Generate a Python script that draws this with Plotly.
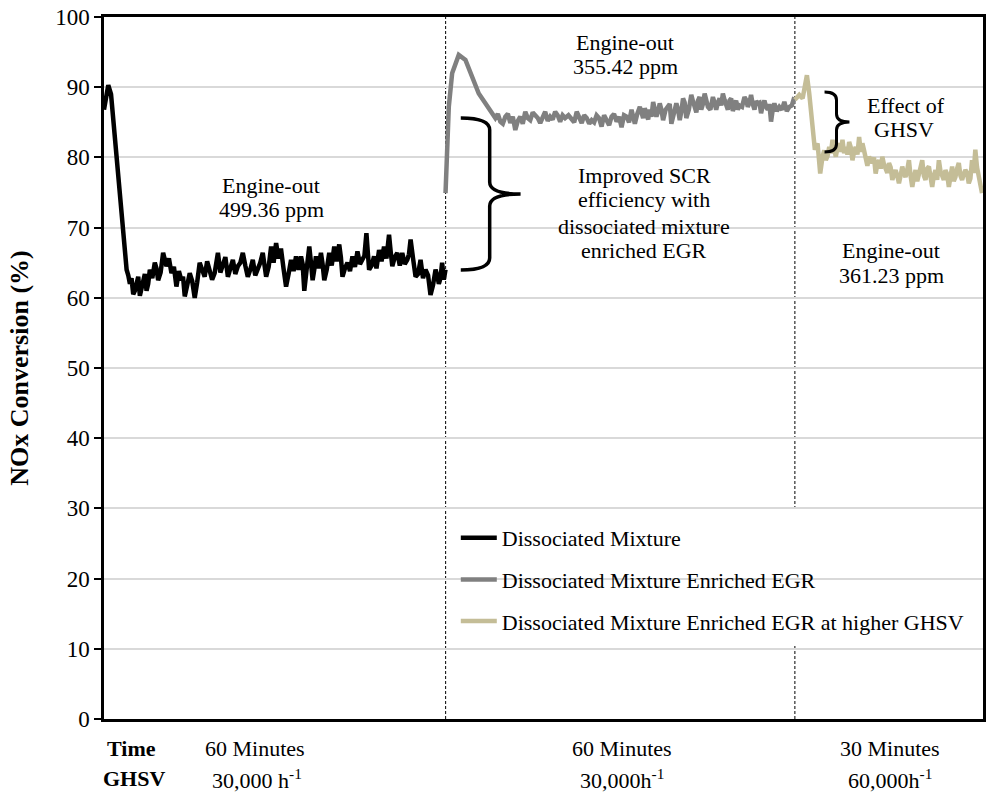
import plotly.graph_objects as go

# ---------------- data (time in minutes, NOx conversion in %) ----------------
t_dm = [0.0, 0.4, 0.73, 1.2, 1.7, 2.14, 2.6, 3.0, 3.57, 3.86, 4.14, 4.42, 4.70, 4.99, 5.27, 5.56,
        5.84, 6.12, 6.40, 6.69, 6.97, 7.26, 7.54, 7.82, 8.24, 8.67, 8.95, 9.24, 9.66, 10.09, 10.37,
        10.66, 11.08, 11.51, 11.93, 12.36, 12.78, 13.21, 13.49, 13.78, 14.2, 14.63, 15.05, 15.48,
        15.9, 16.33, 16.75, 17.18, 17.6, 18.03, 18.45, 18.88, 19.16, 19.44, 19.86, 20.29, 20.71,
        21.14, 21.56, 21.99, 22.41, 22.84, 23.26, 23.69, 24.11, 24.54, 24.96, 25.39, 25.81, 26.24,
        26.66, 27.09, 27.38, 27.67, 28.1, 28.52, 28.94, 29.37, 29.78, 30.2, 30.63, 31.07, 31.5,
        31.92, 32.35, 32.77, 33.2, 33.62, 33.9, 34.18, 34.6, 35.03, 35.32, 35.6, 35.88, 36.17,
        36.6, 37.02, 37.3, 37.59, 38.0, 38.44, 38.86, 39.29, 39.7, 40.14, 40.42, 40.7, 41.12,
        41.55, 41.98, 42.4, 42.82, 43.25, 43.68, 44.1, 44.44, 44.78, 45.0, 45.24, 45.66, 46.09,
        46.5, 46.94, 47.36, 47.79, 48.2, 48.64, 48.92, 49.2, 49.62, 50.05, 50.48, 50.9, 51.32,
        51.75, 52.04, 52.32, 52.74, 53.17, 53.6, 54.02, 54.44, 54.87, 55.3, 55.72, 56.15, 56.58,
        56.86, 57.14, 57.42, 57.7, 57.99, 58.28]
v_dm = [86.8, 89.0, 90.3, 89.0, 84.5, 79.6, 75.0, 71.1, 66.4, 64.0, 63.2, 62.0, 62.8, 60.5, 61.0, 62.5,
        63.0, 60.3, 61.2, 62.5, 63.4, 61.0, 62.0, 64.0, 62.8, 65.0, 64.2, 62.5, 63.6, 66.4, 65.2,
        64.5, 65.6, 63.5, 64.4, 61.6, 63.8, 62.5, 63.0, 60.2, 61.8, 63.5, 62.4, 60.0,
        62.2, 65.0, 64.0, 63.0, 65.2, 64.0, 62.6, 63.5, 64.8, 66.4, 63.6, 65.0, 65.8,
        63.0, 64.2, 65.4, 63.4, 64.5, 65.0, 66.4, 64.6, 63.0, 64.0, 65.4, 63.2, 64.0,
        65.0, 66.4, 64.6, 63.0, 64.4, 67.3, 65.0, 67.8, 65.6, 67.0, 64.2, 61.6, 63.4,
        65.4, 63.8, 65.9, 64.0, 65.9, 64.8, 61.0, 64.2, 67.3, 65.0, 62.5, 64.0, 65.9,
        64.2, 66.4, 64.8, 62.5, 64.0, 66.4, 64.6, 67.3, 65.2, 67.6, 65.8, 63.0, 64.2,
        65.0, 63.8, 65.9, 64.4, 66.6, 64.8, 65.4, 66.0, 69.2, 66.4, 64.0, 64.6, 65.9,
        64.2, 66.8, 65.2, 67.3, 65.6, 69.0, 66.6, 64.5, 65.8, 66.4, 64.6, 66.4, 64.8,
        65.4, 66.2, 68.3, 65.6, 63.0, 63.4, 65.4, 62.8, 64.0, 63.2, 60.4, 61.8, 64.0,
        63.2, 62.0, 62.8, 65.0, 62.6, 64.0]

t_egr = [58.28, 58.56, 58.84, 59.41, 60.54, 61.68, 62.81, 63.95, 65.08, 65.93, 66.78, 67.21, 67.64,
         68.06, 68.49, 68.92, 69.34, 69.76, 70.19, 70.62, 71.04, 71.46, 71.89, 72.32, 72.74, 73.16,
         73.59, 74.02, 74.44, 74.86, 75.29, 75.72, 76.14, 76.56, 76.99, 77.42, 77.84, 78.26, 78.69,
         79.26, 79.82, 80.24, 80.67, 81.1, 81.52, 81.94, 82.37, 82.8, 83.22, 83.64, 84.06, 84.48,
         84.91, 85.34, 85.77, 86.2, 86.62, 87.04, 87.47, 87.9, 88.32, 88.74, 89.17, 89.6, 90.02,
         90.3, 90.59, 91.0, 91.44, 91.72, 92.0, 92.28, 92.57, 92.86, 93.14, 93.42, 93.71, 93.99,
         94.27, 94.56, 94.84, 95.12, 95.41, 95.84, 96.26, 96.54, 96.82, 97.24, 97.67, 97.96, 98.25,
         98.53, 98.81, 99.09, 99.37, 99.8, 100.22, 100.51, 100.8, 101.08, 101.36, 101.64, 101.92,
         102.21, 102.5, 102.78, 103.06, 103.48, 103.91, 104.19, 104.47, 104.76, 105.05, 105.33,
         105.61, 105.89, 106.17, 106.46, 106.75, 107.03, 107.31, 107.59, 107.87, 108.16, 108.45,
         108.88, 109.3, 109.58, 109.86, 110.14, 110.42, 110.71, 111.0, 111.28, 111.56, 111.85,
         112.13, 112.42, 112.7, 112.99, 113.27, 113.55, 113.83, 114.12, 114.4, 114.82, 115.25,
         115.68, 116.1, 116.52, 116.95, 117.38, 117.8]
v_egr = [74.9, 80.0, 87.2, 92.0, 94.6, 93.9, 91.5, 89.1, 87.7, 86.5, 85.6, 86.2, 85.1,
         84.8, 85.8, 86.2, 84.9, 85.8, 83.9, 85.2, 85.8, 84.8, 86.5, 85.6, 85.3, 86.4,
         86.0, 85.6, 84.9, 85.6, 86.5, 85.2, 85.8, 85.4, 86.5, 86.0, 85.1, 86.0, 85.6,
         86.0, 85.3, 85.0, 86.5, 85.8, 84.9, 86.0, 85.6, 84.8, 85.3, 85.0, 86.0, 85.6,
         84.4, 86.0, 85.3, 84.6, 85.8, 86.2, 85.1, 85.8, 84.3, 86.0, 85.8, 85.0, 86.8,
         86.0, 84.8, 86.2, 87.2, 86.4, 85.6, 87.0, 86.3, 85.4, 86.8, 85.8, 87.9, 86.6,
         85.8, 86.6, 87.7, 86.8, 85.3, 86.8, 87.2, 87.6, 84.8, 86.2, 87.7, 86.8, 85.3,
         86.6, 88.4, 87.8, 85.6, 86.8, 88.9, 88.0, 87.2, 86.4, 88.1, 88.6, 86.8,
         87.6, 89.1, 88.0, 87.2, 86.8, 88.6, 87.8, 86.8, 87.8, 88.4, 87.4,
         89.1, 88.2, 87.2, 86.8, 88.1, 88.4, 86.6, 87.6, 88.1, 86.8, 87.4,
         87.2, 88.6, 88.2, 87.2, 87.8, 88.9, 87.6, 86.8, 88.0, 87.7, 87.8,
         86.3, 87.4, 88.1, 87.2, 86.8, 87.6, 85.1, 86.8, 87.7, 86.6, 87.2,
         86.8, 87.9, 86.6, 87.2, 87.4, 88.6]

t_ghsv = [117.9, 118.65, 119.22, 119.95, 120.35, 120.92, 121.31, 121.77, 122.22, 122.62, 122.9, 123.18,
          123.47, 123.76, 124.04, 124.32, 124.6, 124.88, 125.17, 125.46, 125.74, 126.02, 126.3, 126.58,
          126.87, 127.16, 127.44, 127.72, 128.0, 128.28, 128.57, 128.86, 129.14, 129.42, 129.7, 129.98,
          130.27, 130.56, 130.84, 131.12, 131.4, 131.68, 131.97, 132.26, 132.54, 132.82, 133.1, 133.38,
          133.67, 133.96, 134.24, 134.52, 134.8, 135.08, 135.37, 135.66, 135.94, 136.22, 136.5, 136.78,
          137.07, 137.36, 137.64, 137.93, 138.21, 138.49, 138.78, 139.06, 139.34, 139.63, 139.91,
          140.19, 140.48, 140.77, 141.05, 141.33, 141.61, 141.89, 142.18, 142.47, 142.75, 143.03,
          143.31, 143.59, 143.88, 144.17, 144.45, 144.73, 145.01, 145.29, 145.58, 145.87, 146.15,
          146.43, 146.71, 146.99, 147.28, 147.57, 147.85, 148.13, 148.41, 148.69, 148.98, 149.27,
          149.55, 149.83]
v_ghsv = [88.2, 88.9, 88.4, 91.7, 89.1, 84.4, 81.1, 82.0, 77.7, 80.1, 81.0, 79.6,
          80.2, 81.5, 80.6, 82.5, 81.6, 80.1, 81.4, 82.0, 80.8, 82.5, 80.6, 81.5,
          80.4, 82.2, 81.4, 79.6, 80.8, 81.5, 80.4, 82.9, 80.8, 82.0, 81.0, 79.6,
          78.8, 80.1, 79.4, 79.2, 80.0, 77.7, 79.0, 79.6, 78.4, 80.1, 79.0, 78.2,
          77.8, 79.2, 78.6, 76.8, 77.8, 78.2, 77.4, 76.3, 77.4, 78.7, 77.8, 77.2,
          78.2, 79.6, 77.4, 75.8, 77.2, 78.2, 76.6, 77.7, 78.4, 79.6, 77.4,
          76.8, 78.4, 78.7, 77.2, 75.8, 77.4, 78.2, 76.8, 79.6, 78.0, 77.2,
          76.8, 78.2, 77.6, 75.8, 77.2, 78.7, 76.6, 77.2, 78.4, 79.2, 77.4,
          76.8, 77.6, 78.2, 77.8, 76.3, 77.0, 79.6, 77.8, 81.1, 78.6, 77.2,
          76.2, 74.9]

series_names = ["Dissociated Mixture", "Dissociated Mixture Enriched EGR",
                "Dissociated Mixture Enriched EGR at higher GHSV"]
series_colors = ["#000000", "#808080", "#c4bd97"]

phase_bounds = [58.3, 117.9]   # minutes where the test phases change
y_ticks = [0, 10, 20, 30, 40, 50, 60, 70, 80, 90, 100]

FONT = "Liberation Serif"

# ------------- layout helpers (pixel -> paper) -------------
L, R, T, B = 104, 986, 17, 719
def fx(p):
    return (p - L) / (R - L)
def fy(p):
    return (B - p) / (B - T)

fig = go.Figure()
for t, v, name, col in zip([t_dm, t_egr, t_ghsv], [v_dm, v_egr, v_ghsv], series_names, series_colors):
    fig.add_trace(go.Scatter(x=t, y=v, mode="lines", name=name, legendgroup=name,
                             line=dict(color=col, width=4.5)))

shapes = []
for xb in phase_bounds:
    shapes.append(dict(type="line", xref="x", yref="paper", x0=xb, x1=xb, y0=0, y1=1,
                       line=dict(color="black", width=1, dash="3px,2px"), layer="between"))
# white legend background and text background
shapes.append(dict(type="rect", xref="paper", yref="paper", x0=fx(449), x1=fx(985),
                   y0=fy(646), y1=fy(510), fillcolor="white", line=dict(width=0), layer="between"))
shapes.append(dict(type="rect", xref="paper", yref="paper", x0=fx(537), x1=fx(760),
                   y0=fy(262), y1=fy(165), fillcolor="white", line=dict(width=0), layer="between"))

def brace(x_end, x_mid, x_tip, y_top, y_tip, y_bot, r):
    pts = (f"M {fx(x_end)},{fy(y_top)} "
           f"Q {fx(x_mid)},{fy(y_top)} {fx(x_mid)},{fy(y_top + r)} "
           f"L {fx(x_mid)},{fy(y_tip - r)} "
           f"Q {fx(x_mid)},{fy(y_tip)} {fx(x_tip)},{fy(y_tip)} "
           f"Q {fx(x_mid)},{fy(y_tip)} {fx(x_mid)},{fy(y_tip + r)} "
           f"L {fx(x_mid)},{fy(y_bot - r)} "
           f"Q {fx(x_mid)},{fy(y_bot)} {fx(x_end)},{fy(y_bot)}")
    return pts

shapes.append(dict(type="path", xref="paper", yref="paper",
                   path=brace(462, 491, 522, 118, 194, 270, 12),
                   line=dict(color="black", width=3.5), layer="above"))
shapes.append(dict(type="path", xref="paper", yref="paper",
                   path=brace(827, 839, 852, 92, 122, 152, 8),
                   line=dict(color="black", width=3), layer="above"))

ann = []
def note(text, x, y, size=22, bold=False):
    ann.append(dict(text=f"<b>{text}</b>" if bold else text, xref="paper", yref="paper",
                    x=fx(x), y=fy(y), xanchor="center", yanchor="middle", showarrow=False,
                    font=dict(family=FONT, size=size, color="black")))

note("Engine-out", 272, 186)
note("499.36 ppm", 272, 210)
note("Engine-out", 627, 42)
note("355.42 ppm", 627, 66)
note("Improved SCR", 646, 175)
note("efficiency with", 646, 200)
note("dissociated mixture", 646, 226)
note("enriched EGR", 646, 250)
note("Effect of", 909, 105)
note("GHSV", 907, 130)
note("Engine-out", 894, 250)
note("361.23 ppm", 894, 275)

note("Time", 132, 748, bold=True)
note("GHSV", 134, 779, bold=True)
note("60 Minutes", 256, 748)
note("30,000 h<sup>-1</sup>", 258, 779)
note("60 Minutes", 624, 748)
note("30,000h<sup>-1</sup>", 624, 779)
note("30 Minutes", 893, 748)
note("60,000h<sup>-1</sup>", 893, 779)

fig.update_layout(
    width=988, height=793,
    margin=dict(l=L, r=988 - R, t=T, b=793 - B),
    paper_bgcolor="white", plot_bgcolor="white",
    font=dict(family=FONT, color="black"),
    shapes=shapes, annotations=ann,
    showlegend=True,
    legend=dict(x=fx(457), y=fy(517), xanchor="left", yanchor="top", itemwidth=36,
                bgcolor="rgba(0,0,0,0)", font=dict(family=FONT, size=22, color="black"),
                tracegroupgap=10, traceorder="grouped"),
)
fig.update_xaxes(range=[0, 150], showline=True, linecolor="black", linewidth=2.5, mirror=True,
                 showgrid=False, zeroline=False, showticklabels=False, ticks="")
fig.update_yaxes(range=[0, 100], tickvals=y_ticks, showline=True, linecolor="black", linewidth=2.5,
                 mirror=True, ticks="outside", ticklen=7, tickwidth=2, tickcolor="black",
                 showgrid=True, gridcolor="#d9d9d9", gridwidth=1.5, zeroline=False,
                 tickfont=dict(family=FONT, size=23, color="black"),
                 title=dict(text="NOx Conversion (%)", standoff=20,
                            font=dict(family=FONT, size=26, color="black", weight="bold")))

fig.write_html("out.html")
